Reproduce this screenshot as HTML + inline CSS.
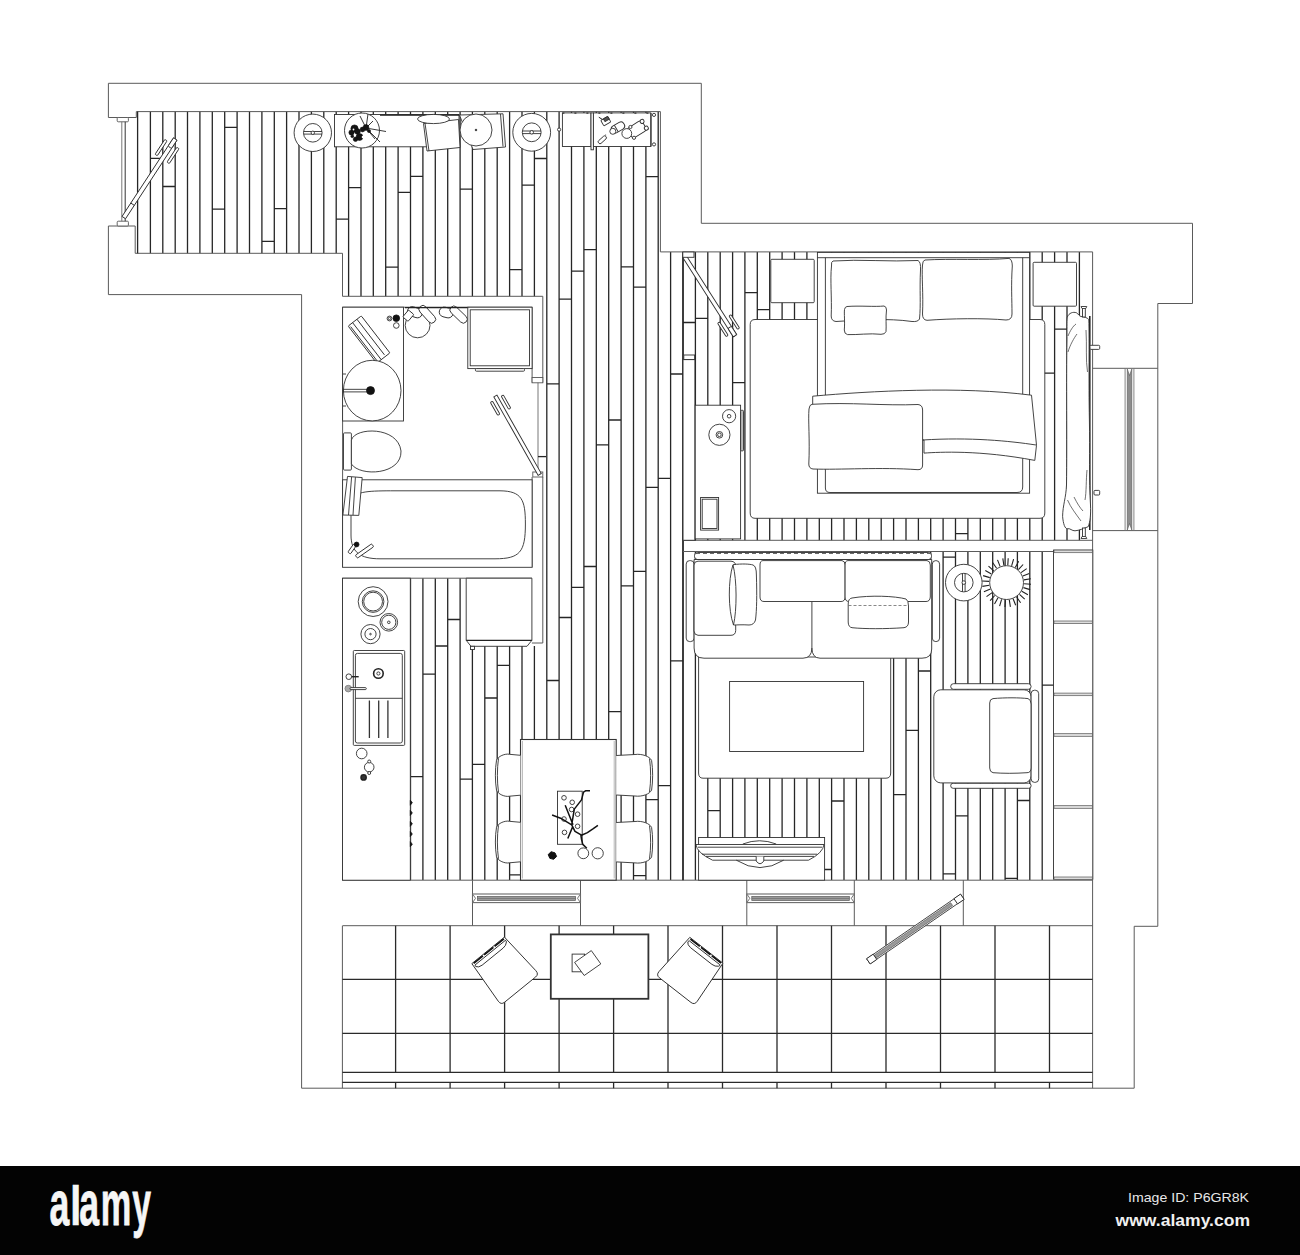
<!DOCTYPE html>
<html><head><meta charset="utf-8"><style>
html,body{margin:0;padding:0;background:#fff;}
body{width:1300px;height:1255px;overflow:hidden;position:relative;font-family:"Liberation Sans",sans-serif;}
svg{position:absolute;left:0;top:0;}
.bar{position:absolute;left:0;top:1166px;width:1300px;height:89px;background:#030303;}
</style></head><body>
<svg width="1300" height="1166" viewBox="0 0 1300 1166" shape-rendering="geometricPrecision">
<g>
<path d="M150.4 111.6V253.3 M162.8 111.6V253.3 M175.2 111.6V253.3 M187.5 111.6V253.3 M199.9 111.6V253.3 M212.3 111.6V253.3 M224.7 111.6V253.3 M237.1 111.6V253.3 M249.5 111.6V253.3 M261.9 111.6V253.3 M274.3 111.6V253.3 M286.6 111.6V253.3 M299.0 111.6V253.3 M311.4 111.6V253.3 M323.8 111.6V253.3 M336.2 111.6V253.3 M348.6 111.6V296.3 M361.0 111.6V296.3 M373.3 111.6V296.3 M385.7 111.6V296.3 M398.1 111.6V296.3 M410.5 111.6V296.3 M422.9 111.6V296.3 M435.3 111.6V296.3 M447.7 111.6V296.3 M460.1 111.6V296.3 M472.4 111.6V296.3 M484.8 111.6V296.3 M497.2 111.6V296.3 M509.6 111.6V296.3 M522.0 111.6V296.3 M534.4 111.6V296.3 M546.8 111.6V880.0 M559.1 111.6V880.0 M571.5 111.6V880.0 M583.9 111.6V880.0 M596.3 111.6V880.0 M608.7 111.6V880.0 M621.1 111.6V880.0 M633.5 111.6V880.0 M645.9 111.6V880.0 M658.2 111.6V880.0 M670.6 251.9V880.0 M683.0 251.9V880.0 M410.5 578.2V880.0 M422.9 578.2V880.0 M435.3 578.2V880.0 M447.7 578.2V880.0 M460.1 578.2V880.0 M472.4 646.0V880.0 M484.8 646.0V880.0 M497.2 646.0V880.0 M509.6 646.0V880.0 M522.0 646.0V880.0 M534.4 646.0V880.0 M695.4 251.9V540.3 M707.8 251.9V540.3 M720.2 251.9V540.3 M732.6 251.9V540.3 M744.9 251.9V540.3 M757.3 251.9V540.3 M769.7 251.9V540.3 M782.1 251.9V540.3 M794.5 251.9V540.3 M806.9 251.9V540.3 M819.3 251.9V540.3 M831.6 251.9V540.3 M844.0 251.9V540.3 M856.4 251.9V540.3 M868.8 251.9V540.3 M881.2 251.9V540.3 M893.6 251.9V540.3 M906.0 251.9V540.3 M918.4 251.9V540.3 M930.7 251.9V540.3 M943.1 251.9V540.3 M955.5 251.9V540.3 M967.9 251.9V540.3 M980.3 251.9V540.3 M992.7 251.9V540.3 M1005.1 251.9V540.3 M1017.4 251.9V540.3 M1029.8 251.9V540.3 M1042.2 251.9V540.3 M1054.6 251.9V540.3 M1067.0 251.9V540.3 M1079.4 251.9V540.3 M695.4 551.5V880.0 M707.8 551.5V880.0 M720.2 551.5V880.0 M732.6 551.5V880.0 M744.9 551.5V880.0 M757.3 551.5V880.0 M769.7 551.5V880.0 M782.1 551.5V880.0 M794.5 551.5V880.0 M806.9 551.5V880.0 M819.3 551.5V880.0 M831.6 551.5V880.0 M844.0 551.5V880.0 M856.4 551.5V880.0 M868.8 551.5V880.0 M881.2 551.5V880.0 M893.6 551.5V880.0 M906.0 551.5V880.0 M918.4 551.5V880.0 M930.7 551.5V880.0 M943.1 551.5V880.0 M955.5 551.5V880.0 M967.9 551.5V880.0 M980.3 551.5V880.0 M992.7 551.5V880.0 M1005.1 551.5V880.0 M1017.4 551.5V880.0 M1029.8 551.5V880.0 M1042.2 551.5V880.0 M150.4 158.3H162.8 M162.8 186.5H175.2 M212.3 209.2H224.7 M224.7 127.3H237.1 M261.9 241.3H274.3 M274.3 208.7H286.6 M336.2 219.1H348.6 M348.6 187.7H361.0 M385.7 267.2H398.1 M398.1 192.4H410.5 M410.5 176.4H422.9 M410.5 776.6H422.9 M460.1 189.2H472.4 M460.1 779.1H472.4 M509.6 269.6H522.0 M509.6 874.8H522.0 M522.0 185.1H534.4 M534.4 158.5H546.8 M422.9 674.2H435.3 M435.3 646.0H447.7 M447.7 619.5H460.1 M472.4 764.4H484.8 M484.8 698.0H497.2 M497.2 665.3H509.6 M546.8 383.8H559.1 M546.8 680.5H559.1 M559.1 299.1H571.5 M559.1 617.5H571.5 M571.5 271.2H583.9 M571.5 587.4H583.9 M583.9 249.7H596.3 M583.9 566.5H596.3 M596.3 444.9H608.7 M608.7 420.0H621.1 M608.7 711.6H621.1 M621.1 266.9H633.5 M621.1 585.8H633.5 M633.5 287.2H645.9 M633.5 571.3H645.9 M633.5 875.6H645.9 M645.9 176.7H658.2 M645.9 487.4H658.2 M645.9 799.6H658.2 M658.2 478.3H670.6 M658.2 785.6H670.6 M670.6 374.0H683.0 M670.6 660.9H683.0 M683.0 322.5H695.4 M695.4 318.4H707.8 M732.6 382.7H744.9 M744.9 292.7H757.3 M757.3 309.6H769.7 M955.5 533.7H967.9 M1042.2 373.1H1054.6 M1054.6 329.2H1067.0 M707.8 810.6H720.2 M819.3 869.5H831.6 M831.6 801.0H844.0 M893.6 794.7H906.0 M906.0 730.3H918.4 M918.4 671.0H930.7 M943.1 557.2H955.5 M943.1 873.8H955.5 M955.5 815.9H967.9 M1005.1 878.3H1017.4 M1017.4 800.5H1029.8 M1042.2 685.1H1054.6" stroke="#262626" stroke-width="1.3" fill="none"/>
</g>
<polyline points="108.4,83.3 701.3,83.3 701.3,223.3 1192.5,223.3 1192.5,303.5 1157.8,303.5 1157.8,926.3 1134.2,926.3 1134.2,1088.2 301.6,1088.2 301.6,294.6 108.4,294.6 108.4,226.0" stroke="#5a5a5a" stroke-width="1" fill="none"/>
<polyline points="108.4,117.5 108.4,83.3" stroke="#5a5a5a" stroke-width="1" fill="none"/>
<polyline points="108.4,117.5 136.3,117.5 136.3,111.6 660.4,111.6 660.4,251.9 1092.6,251.9 1092.6,1088.2" stroke="#5a5a5a" stroke-width="1" fill="none"/>
<polyline points="108.4,226.0 135.2,226.0 135.2,253.3 342.5,253.3 342.5,296.3 542.8,296.3 542.8,382.6" stroke="#5a5a5a" stroke-width="1" fill="none"/>
<line x1="137.6" y1="111.6" x2="137.6" y2="253.3" stroke="#262626" stroke-width="1.3" fill="none"/>
<rect x="117.2" y="117.5" width="11.2" height="4.3" rx="1" stroke="#555" stroke-width="0.9" fill="#fff"/>
<rect x="117.2" y="221.2" width="11.2" height="4.8" rx="1" stroke="#555" stroke-width="0.9" fill="#fff"/>
<line x1="121.8" y1="121.8" x2="121.8" y2="221.2" stroke="#777" stroke-width="1"/>
<line x1="125.2" y1="121.8" x2="125.2" y2="221.2" stroke="#333" stroke-width="1"/>
<polyline points="342.6,567.3 342.6,307.2 532.1,307.2 532.1,382.6" stroke="#5a5a5a" stroke-width="1" fill="none"/>
<rect x="532.1" y="377.5" width="10.7" height="5.3" rx="0" stroke="#555" stroke-width="0.9" fill="#fff"/>
<rect x="532.8" y="472.0" width="10.0" height="5.0" rx="0" stroke="#555" stroke-width="0.9" fill="#fff"/>
<line x1="538.0" y1="382.8" x2="538.0" y2="472.0" stroke="#555" stroke-width="0.8"/>
<line x1="538.0" y1="456.6" x2="546.2" y2="456.6" stroke="#262626" stroke-width="1.3" fill="none"/>
<polyline points="532.1,477.0 532.1,567.3" stroke="#5a5a5a" stroke-width="1" fill="none"/>
<line x1="542.8" y1="477.0" x2="542.8" y2="643.0" stroke="#5a5a5a" stroke-width="1" fill="none"/>
<line x1="531.9" y1="643.0" x2="542.8" y2="643.0" stroke="#5a5a5a" stroke-width="1" fill="none"/>
<polyline points="342.5,578.2 531.9,578.2" stroke="#5a5a5a" stroke-width="1" fill="none"/>
<line x1="342.5" y1="578.2" x2="342.5" y2="880.2" stroke="#5a5a5a" stroke-width="1" fill="none"/>
<line x1="342.5" y1="880.2" x2="1092.6" y2="880.2" stroke="#5a5a5a" stroke-width="1" fill="none"/>
<line x1="342.6" y1="925.7" x2="1092.6" y2="925.7" stroke="#5a5a5a" stroke-width="1" fill="none"/>
<line x1="342.4" y1="925.7" x2="342.4" y2="1088.2" stroke="#5a5a5a" stroke-width="1" fill="none"/>
<line x1="683.0" y1="251.9" x2="683.0" y2="880.2" stroke="#222" stroke-width="1.3"/>
<line x1="683.0" y1="540.3" x2="1092.6" y2="540.3" stroke="#5a5a5a" stroke-width="1" fill="none"/>
<line x1="683.0" y1="551.5" x2="1092.6" y2="551.5" stroke="#5a5a5a" stroke-width="1" fill="none"/>
<line x1="1092.6" y1="368.3" x2="1157.8" y2="368.3" stroke="#5a5a5a" stroke-width="1" fill="none"/>
<line x1="1092.6" y1="530.6" x2="1157.8" y2="530.6" stroke="#5a5a5a" stroke-width="1" fill="none"/>
<line x1="1125.1" y1="368.3" x2="1125.1" y2="530.6" stroke="#777" stroke-width="0.9"/>
<line x1="1133.9" y1="368.3" x2="1133.9" y2="530.6" stroke="#777" stroke-width="0.9"/>
<path d="M1127.3 369 L1129.5 375.5 L1131.8 369 V530 L1129.5 523.5 L1127.3 530 Z" stroke="#555" stroke-width="0.6" fill="#8d8d8d"/>
<line x1="472.5" y1="880.2" x2="472.5" y2="925.7" stroke="#5a5a5a" stroke-width="1" fill="none"/>
<line x1="580.5" y1="880.2" x2="580.5" y2="925.7" stroke="#5a5a5a" stroke-width="1" fill="none"/>
<line x1="746.8" y1="880.2" x2="746.8" y2="925.7" stroke="#5a5a5a" stroke-width="1" fill="none"/>
<line x1="854.3" y1="880.2" x2="854.3" y2="925.7" stroke="#5a5a5a" stroke-width="1" fill="none"/>
<line x1="963.3" y1="880.2" x2="963.3" y2="925.7" stroke="#5a5a5a" stroke-width="1" fill="none"/>
<path d="M395.6 925.7V1072.4M395.6 1082.3V1088.2 M450.1 925.7V1072.4M450.1 1082.3V1088.2 M504.6 925.7V1072.4M504.6 1082.3V1088.2 M559.1 925.7V1072.4M559.1 1082.3V1088.2 M613.6 925.7V1072.4M613.6 1082.3V1088.2 M668.0 925.7V1072.4M668.0 1082.3V1088.2 M722.5 925.7V1072.4M722.5 1082.3V1088.2 M777.0 925.7V1072.4M777.0 1082.3V1088.2 M831.5 925.7V1072.4M831.5 1082.3V1088.2 M886.0 925.7V1072.4M886.0 1082.3V1088.2 M940.5 925.7V1072.4M940.5 1082.3V1088.2 M995.0 925.7V1072.4M995.0 1082.3V1088.2 M1049.5 925.7V1072.4M1049.5 1082.3V1088.2 M342.4 979.4H1092.6 M342.4 1033.3H1092.6 M342.4 1072.4H1092.6 M342.4 1082.3H1092.6" stroke="#2a2a2a" stroke-width="1.3" fill="none"/>
<g transform="translate(123.8,217.6) rotate(-56.80)">
<rect x="0.0" y="-2.1" width="94.0" height="4.2" rx="0" stroke="#303030" stroke-width="0.9" fill="#fff"/>
<line x1="16.0" y1="-2.1" x2="16.0" y2="2.1" stroke="#303030" stroke-width="0.9" fill="none"/>
<rect x="70.0" y="-8.5" width="18.0" height="2.7" rx="1" stroke="#303030" stroke-width="0.9" fill="#fff"/>
<rect x="70.0" y="5.8" width="18.0" height="2.7" rx="1" stroke="#303030" stroke-width="0.9" fill="#fff"/>
<rect x="84.0" y="-2.1" width="10.0" height="4.2" rx="1" stroke="#303030" stroke-width="0.9" fill="#fff"/>
</g>
<circle cx="312.8" cy="132.8" r="18.7" stroke="#303030" stroke-width="0.9" fill="#fff"/>
<circle cx="312.8" cy="132.8" r="9.3" stroke="#303030" stroke-width="0.9" fill="#fff"/>
<line x1="303.6" y1="131.5" x2="322.0" y2="131.5" stroke="#303030" stroke-width="0.9" fill="none"/>
<line x1="303.6" y1="134.1" x2="322.0" y2="134.1" stroke="#303030" stroke-width="0.9" fill="none"/>
<circle cx="312.8" cy="132.8" r="1.7" stroke="#303030" stroke-width="0.9" fill="#fff"/>
<rect x="334.5" y="114.5" width="124.5" height="32.3" rx="0" stroke="#303030" stroke-width="0.9" fill="#fff"/>
<line x1="380.0" y1="115.2" x2="459.0" y2="115.2" stroke="#1a1a1a" stroke-width="1.2" fill="none"/>
<circle cx="362.0" cy="130.5" r="17.5" stroke="#303030" stroke-width="0.9" fill="#fff"/>
<path d="M366 128 L360 116 M366 128 L368 114 M366 128 L386 131.5 M366 128 L380 142 M366 128 L373 121 M366 128 L375 139" stroke="#222" stroke-width="0.9" fill="none"/>
<circle cx="354.5" cy="128.5" r="3.6" stroke="#111" stroke-width="0.6" fill="#141414"/>
<circle cx="351.5" cy="132.5" r="2.6" stroke="#111" stroke-width="0.6" fill="#141414"/>
<circle cx="357.5" cy="131.5" r="2.8" stroke="#111" stroke-width="0.6" fill="#141414"/>
<circle cx="359.5" cy="137.0" r="3.4" stroke="#111" stroke-width="0.6" fill="#141414"/>
<circle cx="355.5" cy="139.3" r="2.2" stroke="#111" stroke-width="0.6" fill="#141414"/>
<circle cx="366.0" cy="127.5" r="2.9" stroke="#111" stroke-width="0.6" fill="#141414"/>
<circle cx="362.5" cy="129.5" r="2.4" stroke="#111" stroke-width="0.6" fill="#141414"/>
<circle cx="352.3" cy="136.3" r="1.4" stroke="#111" stroke-width="0.6" fill="#141414"/>
<circle cx="369.0" cy="131.0" r="1.6" stroke="#111" stroke-width="0.6" fill="#141414"/>
<circle cx="363.0" cy="137.0" r="1.3" stroke="none" fill="#fff"/>
<circle cx="353.5" cy="129.5" r="0.9" stroke="none" fill="#fff"/>
<polygon points="459.5,115.0 503.0,113.8 505.5,147.0 473.0,149.5" stroke="#303030" stroke-width="0.9" fill="#fff"/>
<line x1="500.5" y1="114.0" x2="503.0" y2="146.5" stroke="#303030" stroke-width="0.9" fill="none"/>
<polygon points="423.5,123.5 458.5,119.5 460.0,147.5 427.0,151.0" stroke="#303030" stroke-width="0.9" fill="#fff"/>
<line x1="425.0" y1="123.3" x2="429.0" y2="151.0" stroke="#303030" stroke-width="0.9" fill="none"/>
<ellipse cx="433.5" cy="119" rx="16" ry="4.6" stroke="#303030" stroke-width="0.9" fill="#fff"/>
<circle cx="476.0" cy="130.0" r="16.0" stroke="#303030" stroke-width="0.9" fill="#fff"/>
<circle cx="476.0" cy="130.0" r="0.8" stroke="#333" stroke-width="1" fill="#333"/>
<circle cx="531.7" cy="132.3" r="18.9" stroke="#303030" stroke-width="0.9" fill="#fff"/>
<circle cx="531.7" cy="132.3" r="9.4" stroke="#303030" stroke-width="0.9" fill="#fff"/>
<line x1="522.3" y1="131.0" x2="541.1" y2="131.0" stroke="#303030" stroke-width="0.9" fill="none"/>
<line x1="522.3" y1="133.6" x2="541.1" y2="133.6" stroke="#303030" stroke-width="0.9" fill="none"/>
<circle cx="531.7" cy="132.3" r="1.8" stroke="#303030" stroke-width="0.9" fill="#fff"/>
<circle cx="559.1" cy="129.6" r="1.6" stroke="#303030" stroke-width="0.9" fill="#fff"/>
<rect x="562.4" y="112.9" width="28.6" height="33.6" rx="0" stroke="#303030" stroke-width="0.9" fill="#fff"/>
<rect x="591.0" y="112.9" width="2.4" height="36.9" rx="0" stroke="#303030" stroke-width="0.9" fill="#fff"/>
<rect x="593.4" y="112.9" width="57.3" height="33.6" rx="0" stroke="#303030" stroke-width="0.9" fill="#fff"/>
<line x1="651.2" y1="113.0" x2="651.2" y2="146.5" stroke="#303030" stroke-width="0.9" fill="none"/>
<circle cx="654.0" cy="114.9" r="1.6" stroke="#303030" stroke-width="0.9" fill="#fff"/>
<circle cx="654.0" cy="144.4" r="1.6" stroke="#303030" stroke-width="0.9" fill="#fff"/>
<line x1="562.4" y1="113.2" x2="650.7" y2="113.2" stroke="#333" stroke-width="1.2" stroke-dasharray="2 10"/>
<line x1="598.8" y1="117.2" x2="604.0" y2="120.5" stroke="#222" stroke-width="1"/>
<g transform="translate(605.8,121.2) rotate(-30.00)">
<rect x="-4.0" y="-3.2" width="8.0" height="6.4" rx="1" stroke="#303030" stroke-width="0.9" fill="#fff"/>
<rect x="-1.0" y="-3.2" width="5.0" height="3.2" rx="0" stroke="#222" stroke-width="0.7" fill="#555"/>
</g>
<g transform="translate(602.3,139.8) rotate(-42.00)">
<rect x="-4.8" y="-1.8" width="9.6" height="3.6" rx="1.5" stroke="#303030" stroke-width="0.9" fill="#fff"/>
</g>
<circle cx="605.6" cy="135.0" r="0.6" stroke="none" fill="#333"/>
<g transform="translate(618.0,127.5) rotate(-30.00)">
<rect x="-7.0" y="-3.8" width="14.0" height="7.6" rx="3.5" stroke="#303030" stroke-width="0.9" fill="#fff"/>
<line x1="-2.0" y1="-3.8" x2="-2.0" y2="3.8" stroke="#303030" stroke-width="0.9" fill="none"/>
</g>
<circle cx="612.8" cy="131.3" r="3.0" stroke="#303030" stroke-width="0.9" fill="#fff"/>
<g transform="translate(637.0,129.3) rotate(-32.00)">
<rect x="-8.5" y="-5.8" width="17.0" height="11.6" rx="3" stroke="#303030" stroke-width="0.9" fill="#fff"/>
<circle cx="8.5" cy="-4.0" r="2.0" stroke="#303030" stroke-width="0.9" fill="#fff"/>
<circle cx="8.5" cy="4.0" r="2.0" stroke="#303030" stroke-width="0.9" fill="#fff"/>
</g>
<circle cx="626.8" cy="133.5" r="4.9" stroke="#303030" stroke-width="0.9" fill="#fff"/>
<circle cx="630.4" cy="127.0" r="1.6" stroke="#303030" stroke-width="0.9" fill="#fff"/>
<circle cx="634.0" cy="137.8" r="1.6" stroke="#303030" stroke-width="0.9" fill="#fff"/>
<rect x="342.6" y="307.2" width="60.9" height="113.8" rx="0" stroke="#303030" stroke-width="0.9" fill="#fff"/>
<g transform="translate(361.3,315.9) rotate(52.30)">
<rect x="0.0" y="0.0" width="46.8" height="16.6" rx="1" stroke="#303030" stroke-width="0.9" fill="#fff"/>
<line x1="0.0" y1="5.5" x2="45.0" y2="5.5" stroke="#303030" stroke-width="0.9" fill="none"/>
<line x1="0.0" y1="11.0" x2="46.8" y2="11.0" stroke="#303030" stroke-width="0.9" fill="none"/>
<line x1="2.0" y1="15.0" x2="46.0" y2="15.0" stroke="#303030" stroke-width="0.9" fill="none"/>
</g>
<ellipse cx="372.2" cy="390.6" rx="28.8" ry="30.3" stroke="#303030" stroke-width="0.9" fill="#fff"/>
<rect x="343.5" y="389.3" width="26.5" height="2.6" rx="0" stroke="#303030" stroke-width="0.9" fill="#fff"/>
<circle cx="370.5" cy="390.6" r="4.0" stroke="#111" stroke-width="0.8" fill="#111"/>
<line x1="343.0" y1="374.0" x2="346.0" y2="374.0" stroke="#303030" stroke-width="0.9" fill="none"/>
<line x1="343.0" y1="406.0" x2="346.0" y2="406.0" stroke="#303030" stroke-width="0.9" fill="none"/>
<circle cx="396.3" cy="318.2" r="3.3" stroke="#111" stroke-width="0.8" fill="#111"/>
<circle cx="396.3" cy="325.5" r="2.8" stroke="#303030" stroke-width="0.9" fill="#fff"/>
<circle cx="389.5" cy="318.5" r="2.4" stroke="#303030" stroke-width="0.9" fill="#fff"/>
<circle cx="389.5" cy="318.5" r="1.2" stroke="#303030" stroke-width="0.9" fill="none"/>
<circle cx="417.6" cy="325.4" r="12.4" stroke="#303030" stroke-width="0.9" fill="#fff"/>
<g transform="translate(414.8,312.3) rotate(18.00)">
<rect x="-7.5" y="-4.8" width="15.0" height="9.5" rx="4.75" stroke="#303030" stroke-width="0.9" fill="#fff"/>
</g>
<g transform="translate(427.3,314.3) rotate(48.00)">
<rect x="-10.5" y="-3.9" width="21.0" height="7.8" rx="3.9" stroke="#303030" stroke-width="0.9" fill="#fff"/>
</g>
<g transform="translate(446.2,312.5) rotate(14.00)">
<rect x="-7.0" y="-4.9" width="14.0" height="9.8" rx="4.9" stroke="#303030" stroke-width="0.9" fill="#fff"/>
</g>
<g transform="translate(458.6,314.6) rotate(44.00)">
<rect x="-10.5" y="-3.9" width="21.0" height="7.8" rx="3.9" stroke="#303030" stroke-width="0.9" fill="#fff"/>
</g>
<g transform="translate(408.3,315.7) rotate(-50.00)">
<rect x="-4.5" y="-3.5" width="9.0" height="7.0" rx="1" stroke="#303030" stroke-width="0.9" fill="#fff"/>
</g>
<line x1="405.0" y1="307.6" x2="470.0" y2="307.6" stroke="#222" stroke-width="1.4"/>
<rect x="467.8" y="307.2" width="64.3" height="61.4" rx="0" stroke="#303030" stroke-width="0.9" fill="#fff"/>
<rect x="470.2" y="309.8" width="59.3" height="56.0" rx="0" stroke="#303030" stroke-width="0.9" fill="#fff"/>
<rect x="475.4" y="368.6" width="49.1" height="2.6" rx="1" stroke="#303030" stroke-width="0.9" fill="#fff"/>
<rect x="343.5" y="432.9" width="7.9" height="37.2" rx="1" stroke="#303030" stroke-width="0.9" fill="#fff"/>
<path d="M351.4 440 C355 427 398 426 401 451 C402 475 360 477 351.4 464 Z" stroke="#303030" stroke-width="0.9" fill="#fff"/>
<rect x="342.6" y="479.8" width="189.5" height="87.5" rx="0" stroke="#303030" stroke-width="0.9" fill="#fff"/>
<path d="M351 500 C355 491 370 490.8 395 490.8 L500 490.8 C522 491 525.4 500 525.4 524 C525.4 552 520 558.8 495 558.8 L380 558.8 C360 558.8 351 552 351 535 Z" stroke="#303030" stroke-width="0.9" fill="#fff"/>
<polygon points="347.5,476.4 362.2,477.6 358.8,515.4 342.9,515.0" stroke="#303030" stroke-width="0.9" fill="#fff"/>
<line x1="351.6" y1="477.0" x2="348.5" y2="515.0" stroke="#303030" stroke-width="0.9" fill="none"/>
<line x1="355.4" y1="477.2" x2="353.0" y2="515.2" stroke="#303030" stroke-width="0.9" fill="none"/>
<g transform="translate(364.5,551.0) rotate(-35.00)">
<rect x="-10.0" y="-1.8" width="20.0" height="3.6" rx="1" stroke="#303030" stroke-width="0.9" fill="#fff"/>
</g>
<g transform="translate(352.0,549.0) rotate(-55.00)">
<rect x="-5.0" y="-1.6" width="10.0" height="3.2" rx="1" stroke="#303030" stroke-width="0.9" fill="#fff"/>
</g>
<circle cx="356.6" cy="544.5" r="2.4" stroke="#111" stroke-width="0.8" fill="#111"/>
<g transform="translate(539.7,474.4) rotate(-119.50)">
<rect x="0.0" y="-1.8" width="90.0" height="3.6" rx="0" stroke="#303030" stroke-width="0.9" fill="#fff"/>
<rect x="72.0" y="-7.5" width="15.0" height="2.5" rx="1" stroke="#303030" stroke-width="0.9" fill="#fff"/>
<rect x="72.0" y="5.0" width="15.0" height="2.5" rx="1" stroke="#303030" stroke-width="0.9" fill="#fff"/>
</g>
<rect x="342.5" y="578.2" width="67.8" height="302.0" rx="0" stroke="#303030" stroke-width="0.9" fill="#fff"/>
<circle cx="373.1" cy="601.6" r="14.9" stroke="#303030" stroke-width="0.9" fill="#fff"/>
<circle cx="373.1" cy="601.6" r="10.8" stroke="#303030" stroke-width="0.9" fill="#fff"/>
<circle cx="373.1" cy="601.6" r="9.4" stroke="#303030" stroke-width="0.9" fill="#fff"/>
<circle cx="388.8" cy="622.3" r="8.8" stroke="#303030" stroke-width="0.9" fill="#fff"/>
<circle cx="388.8" cy="622.3" r="7.1" stroke="#303030" stroke-width="0.9" fill="#fff"/>
<circle cx="388.8" cy="622.3" r="1.3" stroke="#303030" stroke-width="0.9" fill="none"/>
<circle cx="370.5" cy="634.1" r="9.6" stroke="#303030" stroke-width="0.9" fill="#fff"/>
<circle cx="370.5" cy="634.1" r="5.6" stroke="#303030" stroke-width="0.9" fill="#fff"/>
<circle cx="370.5" cy="634.1" r="0.8" stroke="#303030" stroke-width="0.9" fill="none"/>
<rect x="353.3" y="650.5" width="51.4" height="94.9" rx="1" stroke="#303030" stroke-width="0.9" fill="#fff"/>
<rect x="355.4" y="653.4" width="46.9" height="89.6" rx="2" stroke="#303030" stroke-width="0.9" fill="#fff"/>
<line x1="355.4" y1="698.3" x2="402.3" y2="698.3" stroke="#303030" stroke-width="0.9" fill="none"/>
<circle cx="378.4" cy="673.5" r="4.8" stroke="#222" stroke-width="1.6" fill="#fff"/>
<circle cx="378.4" cy="673.5" r="1.6" stroke="#303030" stroke-width="0.9" fill="none"/>
<line x1="369.4" y1="700.5" x2="369.4" y2="738.0" stroke="#333" stroke-width="1.3"/>
<line x1="378.7" y1="700.5" x2="378.7" y2="738.0" stroke="#333" stroke-width="1.3"/>
<line x1="387.9" y1="700.5" x2="387.9" y2="738.0" stroke="#333" stroke-width="1.3"/>
<circle cx="348.8" cy="676.7" r="2.8" stroke="#303030" stroke-width="0.9" fill="#fff"/>
<line x1="351.6" y1="676.7" x2="358.7" y2="676.7" stroke="#222" stroke-width="1.4"/>
<circle cx="348.3" cy="688.6" r="3.3" stroke="#888" stroke-width="1" fill="#aaa"/>
<rect x="350.0" y="687.6" width="16.3" height="2.0" rx="1" stroke="#303030" stroke-width="0.9" fill="#fff"/>
<circle cx="361.7" cy="753.5" r="5.3" stroke="#303030" stroke-width="0.9" fill="#fff"/>
<circle cx="369.2" cy="767.2" r="4.8" stroke="#303030" stroke-width="0.9" fill="#fff"/>
<circle cx="369.2" cy="761.5" r="1.5" stroke="#303030" stroke-width="0.9" fill="#fff"/>
<circle cx="369.2" cy="773.0" r="1.5" stroke="#303030" stroke-width="0.9" fill="#fff"/>
<circle cx="363.6" cy="777.4" r="2.6" stroke="#222" stroke-width="1.5" fill="#333"/>
<path d="M410.3 800.2 l2 2.5 l-2 2.5z" stroke="#111" stroke-width="0.8" fill="#111"/>
<path d="M410.3 810.4 l2 2.5 l-2 2.5z" stroke="#111" stroke-width="0.8" fill="#111"/>
<path d="M410.3 821.3 l2 2.5 l-2 2.5z" stroke="#111" stroke-width="0.8" fill="#111"/>
<path d="M410.3 831.5 l2 2.5 l-2 2.5z" stroke="#111" stroke-width="0.8" fill="#111"/>
<path d="M410.3 841.7 l2 2.5 l-2 2.5z" stroke="#111" stroke-width="0.8" fill="#111"/>
<path d="M466.2 578.2 H531.9 V640.3 L527 646.3 H471 L466.2 640.3 Z" stroke="#303030" stroke-width="0.9" fill="#fff"/>
<line x1="466.2" y1="640.3" x2="531.9" y2="640.3" stroke="#222" stroke-width="1.2"/>
<rect x="470.5" y="646.3" width="4.0" height="3.2" rx="0" stroke="#303030" stroke-width="0.9" fill="#fff"/>
<rect x="520.5" y="739.5" width="95.7" height="140.7" rx="0" stroke="#333" stroke-width="1.1" fill="#fff"/>
<line x1="522.4" y1="741.0" x2="522.4" y2="878.5" stroke="#999" stroke-width="0.7"/>
<line x1="614.2" y1="741.0" x2="614.2" y2="878.5" stroke="#999" stroke-width="0.7"/>
<path d="M520.5 755.3 L509.5 754.3 C505 753.3 498 756.3 496.5 760.3 C495 769.0 495 781.5 496.5 790.2 C498 794.2 505 797.2 509.5 796.2 L520.5 795.2" stroke="#303030" stroke-width="0.9" fill="#fff"/>
<path d="M498.5 758.3 C497 769.0 497 781.5 498.5 792.2" stroke="#303030" stroke-width="0.9" fill="none"/>
<line x1="509.5" y1="754.3" x2="509.5" y2="796.2" stroke="none"/>
<path d="M520.5 822.3 L509.5 821.3 C505 820.3 498 823.3 496.5 827.3 C495 835.8 495 848.3 496.5 856.8 C498 860.8 505 863.8 509.5 862.8 L520.5 861.8" stroke="#303030" stroke-width="0.9" fill="#fff"/>
<path d="M498.5 825.3 C497 835.8 497 848.3 498.5 858.8" stroke="#303030" stroke-width="0.9" fill="none"/>
<line x1="509.5" y1="821.3" x2="509.5" y2="862.8" stroke="none"/>
<path d="M616.2 755.5 L635 754.5 C642 753.5 650 756.5 651.6 760.5 C653 769.0 653 781.5 651.6 790.0 C650 794.0 642 797.0 635 796.0 L616.2 795.0" stroke="#303030" stroke-width="0.9" fill="#fff"/>
<path d="M649.5 758.5 C651 769.0 651 781.5 649.5 792.0" stroke="#303030" stroke-width="0.9" fill="none"/>
<path d="M616.2 822.5 L635 821.5 C642 820.5 650 823.5 651.6 827.5 C653 836.0 653 848.4 651.6 856.9 C650 860.9 642 863.9 635 862.9 L616.2 861.9" stroke="#303030" stroke-width="0.9" fill="#fff"/>
<path d="M649.5 825.5 C651 836.0 651 848.4 649.5 858.9" stroke="#303030" stroke-width="0.9" fill="none"/>
<rect x="557.5" y="791.2" width="24.7" height="53.1" rx="0" stroke="#303030" stroke-width="0.9" fill="#fff"/>
<circle cx="564.0" cy="797.8" r="2.3" stroke="#303030" stroke-width="0.9" fill="none"/>
<circle cx="572.2" cy="802.3" r="2.3" stroke="#303030" stroke-width="0.9" fill="none"/>
<circle cx="571.6" cy="809.5" r="2.3" stroke="#303030" stroke-width="0.9" fill="none"/>
<circle cx="577.6" cy="814.2" r="2.3" stroke="#303030" stroke-width="0.9" fill="none"/>
<circle cx="564.0" cy="819.0" r="2.3" stroke="#303030" stroke-width="0.9" fill="none"/>
<circle cx="577.6" cy="826.3" r="2.3" stroke="#303030" stroke-width="0.9" fill="none"/>
<circle cx="564.5" cy="832.4" r="2.3" stroke="#303030" stroke-width="0.9" fill="none"/>
<path d="M552.1 815 L560.6 818.2 L567.2 822.2 L571.7 824.8 L575 831.3 L581.5 835.2 L587.4 832.6 L593.3 828.7 L597.9 825.4 M574.3 809.1 L581.5 799.9 L583.5 792.1 L585.5 790.8 L590 790.8 M580.9 835.2 L581.5 839.2 L582.8 844.4 L586.8 848.3 M565.2 805.2 L573 824.8 M567.8 838.5 L572.4 827.4 M571.7 824.8 L574.3 809.1" stroke="#111" stroke-width="1.5" fill="none" stroke-linejoin="round"/>
<circle cx="583.3" cy="853.3" r="5.4" stroke="#303030" stroke-width="0.9" fill="#fff"/>
<circle cx="597.7" cy="853.3" r="5.6" stroke="#303030" stroke-width="0.9" fill="#fff"/>
<path d="M548.2 854.5 l3 -2.8 l3.8 1.2 l1.6 3.6 l-3 2.8 l-3.8 -1z" stroke="#111" stroke-width="1" fill="#111"/>
<rect x="472.5" y="894.0" width="108.0" height="8.6" rx="0" stroke="#6a6a6a" stroke-width="1.1" fill="#fff"/>
<rect x="477.5" y="896.6" width="98.0" height="3.8" rx="0" stroke="#555" stroke-width="0.7" fill="#9a9a9a"/>
<line x1="477.5" y1="898.5" x2="575.5" y2="898.5" stroke="#666" stroke-width="0.6"/>
<path d="M473.0 894.6 L475.5 898.3 L473.0 902 M580.0 894.6 L577.5 898.3 L580.0 902" stroke="#555" stroke-width="0.8" fill="none"/>
<rect x="746.8" y="894.0" width="107.5" height="8.6" rx="0" stroke="#6a6a6a" stroke-width="1.1" fill="#fff"/>
<rect x="751.8" y="896.6" width="97.5" height="3.8" rx="0" stroke="#555" stroke-width="0.7" fill="#9a9a9a"/>
<line x1="751.8" y1="898.5" x2="849.3" y2="898.5" stroke="#666" stroke-width="0.6"/>
<path d="M747.3 894.6 L749.8 898.3 L747.3 902 M853.8 894.6 L851.3 898.3 L853.8 902" stroke="#555" stroke-width="0.8" fill="none"/>
<g transform="translate(872.5,958.5) rotate(-34.50)">
<rect x="-5.0" y="-3.0" width="114.0" height="6.0" rx="0" stroke="#444" stroke-width="0.9" fill="#fff"/>
<rect x="3.0" y="-1.7" width="93.0" height="3.4" rx="0" stroke="#555" stroke-width="0.6" fill="#9a9a9a"/>
<rect x="-5.0" y="-3.2" width="8.0" height="6.4" rx="0" stroke="#303030" stroke-width="0.9" fill="#fff"/>
<rect x="101.0" y="-3.2" width="8.0" height="6.4" rx="0" stroke="#303030" stroke-width="0.9" fill="#fff"/>
</g>
<g transform="translate(684.5,256.5) rotate(57.50)">
<rect x="0.0" y="-2.0" width="94.0" height="4.0" rx="0" stroke="#303030" stroke-width="0.9" fill="#fff"/>
<rect x="74.0" y="-8.0" width="16.0" height="2.5" rx="1" stroke="#303030" stroke-width="0.9" fill="#fff"/>
<rect x="74.0" y="5.5" width="16.0" height="2.5" rx="1" stroke="#303030" stroke-width="0.9" fill="#fff"/>
<rect x="84.0" y="-2.0" width="10.0" height="4.0" rx="1" stroke="#303030" stroke-width="0.9" fill="#fff"/>
</g>
<rect x="682.8" y="252.0" width="11.2" height="5.3" rx="0" stroke="#303030" stroke-width="0.9" fill="#fff"/>
<rect x="683.8" y="355.0" width="10.8" height="4.6" rx="0" stroke="#303030" stroke-width="0.9" fill="#fff"/>
<rect x="683.0" y="359.6" width="12.2" height="180.7" rx="0" stroke="#333" stroke-width="1" fill="#fff"/>
<line x1="695.2" y1="359.6" x2="695.2" y2="540.3" stroke="#262626" stroke-width="1.15" fill="none"/>
<path d="M755 319.5 H1040 Q1044.8 319.5 1044.8 324.5 V513 Q1044.8 518.3 1040 518.3 H755 Q750.2 518.3 750.2 513 V324.5 Q750.2 319.5 755 319.5Z" stroke="#303030" stroke-width="0.9" fill="#fff"/>
<rect x="770.8" y="259.3" width="43.4" height="43.4" rx="1" stroke="#303030" stroke-width="0.9" fill="#fff"/>
<rect x="1033.1" y="262.3" width="43.4" height="43.9" rx="1" stroke="#303030" stroke-width="0.9" fill="#fff"/>
<rect x="817.4" y="252.4" width="212.2" height="240.8" rx="0" stroke="#303030" stroke-width="0.9" fill="#fff"/>
<line x1="817.4" y1="257.7" x2="1029.6" y2="257.7" stroke="#303030" stroke-width="0.9" fill="none"/>
<path d="M825.4 257.7 V488 Q825.4 492.5 830 492.5 H1017 Q1022.7 492.5 1022.7 487 V257.7" stroke="#303030" stroke-width="0.9" fill="none"/>
<path d="M833 261 C860 259 890 262 918 260.5 Q921 262 920.5 270 C919.5 290 921 305 919.5 319 Q918 322 912 321.5 C888 318 860 320 836 321.5 Q831.2 321 831.2 316 C832 298 830 280 831.5 266 Q831 261.5 833 261Z" stroke="#303030" stroke-width="0.9" fill="#fff"/>
<path d="M925 260 C950 258.5 985 260.5 1009 258.4 Q1012.3 259.5 1012.3 266 C1011 285 1012 300 1012 314 Q1012 320 1006 320 C985 318 950 318.5 927 320.3 Q922.5 320 922.5 314 C923.5 295 921.5 275 922.5 265 Q922.5 260.5 925 260Z" stroke="#303030" stroke-width="0.9" fill="#fff"/>
<path d="M847 306.5 C860 305.5 875 307 884 306 Q886.5 306.5 886.5 310 C885.5 318 886.5 326 886 331.5 Q885 334.5 881 334.3 C870 333 857 335 847.5 334.6 Q844.3 334 844.3 330 C845 322 844 313 844.5 309.5 Q845 306.7 847 306.5Z" stroke="#303030" stroke-width="0.9" fill="#fff"/>
<path d="M812.7 396.2 C870 391 960 386 1031.5 395.2 L1036.5 445.2 L1034.8 460.4 C980 450 940 452 924 453.1 L924 440 C890 441 850 443 812.7 445 Z" stroke="#303030" stroke-width="0.9" fill="#fff"/>
<path d="M922.6 440 C970 437 1010 441 1036 445" stroke="#303030" stroke-width="0.9" fill="none"/>
<path d="M812 404.3 C850 402 885 406 918 404.5 Q922.6 405 922.6 410 L922.6 465 Q922.6 469.7 918 469.7 C880 467 840 470 813 469 Q808.8 468.5 808.8 464 C810 440 808 420 809 409 Q809.5 404.5 812 404.3Z" stroke="#303030" stroke-width="0.9" fill="#fff"/>
<line x1="1089.8" y1="316.0" x2="1089.8" y2="530.0" stroke="#1a1a1a" stroke-width="1.5"/>
<path d="M1067.3 317 C1069 313 1073 311.5 1076.5 312.8 C1078.5 314 1079 316 1081 316.5 C1084 316.8 1087 317.5 1088.8 319.5 C1089.5 340 1088.6 380 1089.4 420 C1090 450 1088.8 480 1090.5 505 C1091 515 1090 522 1088.3 526.6 C1084 528.5 1079 530.5 1075 530.8 C1072 531 1070 528 1067.5 528.7 C1065 529 1063.2 524 1062.6 516.3 C1062.8 505 1066 498 1066.5 485 C1067.2 440 1066.2 380 1067 340 C1067.1 330 1066.8 322 1067.3 317Z" stroke="#303030" stroke-width="0.9" fill="#fff"/>
<path d="M1068 336 C1070 331 1073 326 1076 324 M1068 352 C1070 345 1074 338 1077 334 M1067.5 500 C1071 508 1076 514 1081 521 M1074 497 C1077 503 1080 508 1083 511 M1086 330 C1087 345 1085.5 360 1087.5 372 M1087 470 C1086 480 1086.5 492 1085 500" stroke="#333" stroke-width="0.7" fill="none"/>
<rect x="1082.5" y="307.0" width="2.8" height="10.0" rx="0" stroke="#303030" stroke-width="0.9" fill="#fff"/>
<path d="M1081 306.5 h5.8 l-1 2 h-3.8z" stroke="#222" stroke-width="0.8" fill="#fff"/>
<rect x="1082.5" y="528.0" width="2.8" height="9.5" rx="0" stroke="#303030" stroke-width="0.9" fill="#fff"/>
<path d="M1081 538.5 h5.8 l-1 -2 h-3.8z" stroke="#222" stroke-width="0.8" fill="#fff"/>
<rect x="1090.0" y="345.3" width="9.7" height="4.1" rx="1" stroke="#303030" stroke-width="0.9" fill="#fff"/>
<rect x="1094.0" y="490.4" width="5.7" height="4.6" rx="1" stroke="#303030" stroke-width="0.9" fill="#fff"/>
<rect x="695.2" y="405.2" width="45.4" height="133.7" rx="0" stroke="#303030" stroke-width="0.9" fill="#fff"/>
<rect x="740.6" y="410.3" width="2.9" height="40.6" rx="1" stroke="#333" stroke-width="0.9" fill="#bbb"/>
<circle cx="729.1" cy="416.2" r="6.6" stroke="#303030" stroke-width="0.9" fill="#fff"/>
<circle cx="729.1" cy="416.2" r="1.8" stroke="#303030" stroke-width="0.9" fill="none"/>
<circle cx="719.4" cy="434.8" r="10.6" stroke="#303030" stroke-width="0.9" fill="#fff"/>
<circle cx="719.4" cy="434.8" r="3.3" stroke="#303030" stroke-width="0.9" fill="none"/>
<circle cx="719.4" cy="434.8" r="1.8" stroke="#303030" stroke-width="0.9" fill="none"/>
<rect x="700.6" y="497.5" width="18.0" height="32.6" rx="0" stroke="#303030" stroke-width="0.9" fill="#fff"/>
<rect x="702.2" y="499.2" width="14.8" height="29.3" rx="0" stroke="#303030" stroke-width="0.9" fill="none"/>
<path d="M698.6 657 H890.7 V773 Q890.7 778.2 886 778.2 H703 Q698.6 778.2 698.6 773 Z" stroke="#303030" stroke-width="0.9" fill="#fff"/>
<rect x="729.6" y="681.5" width="134.0" height="70.0" rx="0" stroke="#303030" stroke-width="0.9" fill="#fff"/>
<rect x="694.5" y="552.5" width="237.0" height="7.0" rx="3" stroke="#303030" stroke-width="0.9" fill="#fff"/>
<line x1="696.0" y1="553.5" x2="930.0" y2="553.5" stroke="#444" stroke-width="0.8" stroke-dasharray="4 3"/>
<rect x="686.2" y="560.6" width="7.9" height="81.0" rx="3.5" stroke="#303030" stroke-width="0.9" fill="#fff"/>
<rect x="932.3" y="560.6" width="7.3" height="81.0" rx="3.5" stroke="#303030" stroke-width="0.9" fill="#fff"/>
<path d="M694.1 559.5 H931.7 V649 Q931.7 658.2 922 658.2 H820 Q812 658 811.9 648 Q811.8 658 803 658.2 H704 Q694.1 658.2 694.1 648 Z" stroke="#303030" stroke-width="0.9" fill="#fff"/>
<line x1="811.9" y1="601.5" x2="811.9" y2="648.0" stroke="#303030" stroke-width="0.9" fill="none"/>
<path d="M763 560.6 H842 Q845.1 561 845.1 565 V597 Q845 601.5 841 601.5 H764 Q760 601.5 760 597 V565 Q760 560.6 763 560.6Z" stroke="#303030" stroke-width="0.9" fill="#fff"/>
<path d="M848 560.6 H927 Q930.3 561 930.3 565 V597 Q930 601.5 926 601.5 H849 Q845.1 601.5 845.1 597 V565 Q845.1 560.6 848 560.6Z" stroke="#303030" stroke-width="0.9" fill="#fff"/>
<path d="M698 561.2 H731 Q735.7 561.5 735.7 566 V630.5 Q735.5 635.3 731 635.3 H698 Q694.1 635 694.1 631 V565 Q694.1 561.2 698 561.2Z" stroke="#303030" stroke-width="0.9" fill="#fff"/>
<path d="M733 564.7 C742 563.5 750 564 753 565 Q756.4 566 756.4 575 C757 595 756.8 610 755.5 620 Q754 625 749 625 C742 624.5 737 625 733.5 625 C728 610 728 580 733 564.7Z" stroke="#303030" stroke-width="0.9" fill="#fff"/>
<path d="M733 565 C737 580 737 610 733.5 625" stroke="#303030" stroke-width="0.9" fill="none"/>
<path d="M852 598 C870 595 895 596 906 599 Q908.5 600.5 908.5 606 V622 Q908.5 627 904 627.7 C885 629 865 629 852 627.7 Q848.2 627 848.2 622 V604 Q848.2 598.5 852 598Z" stroke="#303030" stroke-width="0.9" fill="#fff"/>
<line x1="848.5" y1="605.5" x2="908.5" y2="605.5" stroke="#555" stroke-width="0.7" stroke-dasharray="3 2"/>
<circle cx="963.8" cy="582.6" r="18.3" stroke="#303030" stroke-width="0.9" fill="#fff"/>
<circle cx="963.8" cy="582.6" r="9.3" stroke="#303030" stroke-width="0.9" fill="#fff"/>
<line x1="962.5" y1="573.5" x2="962.5" y2="591.7" stroke="#303030" stroke-width="0.9" fill="none"/>
<line x1="965.1" y1="573.5" x2="965.1" y2="591.7" stroke="#303030" stroke-width="0.9" fill="none"/>
<circle cx="963.8" cy="582.6" r="1.8" stroke="#303030" stroke-width="0.9" fill="#fff"/>
<path d="M1024.1 583.8L1031.0 584.2 M1023.4 587.6L1030.1 589.6 M1021.8 591.2L1027.9 594.7 M1019.5 594.4L1024.7 599.1 M1016.6 597.0L1020.6 602.7 M1013.1 598.8L1015.7 605.3 M1009.3 599.9L1010.4 606.8 M1005.4 600.1L1005.0 607.0 M1001.6 599.4L999.6 606.1 M998.0 597.8L994.5 603.9 M994.8 595.5L990.1 600.7 M992.2 592.6L986.5 596.6 M990.4 589.1L983.9 591.7 M989.3 585.3L982.4 586.4 M989.1 581.4L982.2 581.0 M989.8 577.6L983.1 575.6 M991.4 574.0L985.3 570.5 M993.7 570.8L988.5 566.1 M996.6 568.2L992.6 562.5 M1000.1 566.4L997.5 559.9 M1003.9 565.3L1002.8 558.4 M1007.8 565.1L1008.2 558.2 M1011.6 565.8L1013.6 559.1 M1015.2 567.4L1018.7 561.3 M1018.4 569.7L1023.1 564.5 M1021.0 572.6L1026.7 568.6 M1022.8 576.1L1029.3 573.5 M1023.9 579.9L1030.8 578.8" stroke="#222" stroke-width="1.1" fill="none"/>
<circle cx="1006.6" cy="582.6" r="16.9" stroke="#303030" stroke-width="0.9" fill="#fff"/>
<rect x="950.7" y="683.7" width="80.4" height="5.6" rx="2.8" stroke="#303030" stroke-width="0.9" fill="#fff"/>
<rect x="950.7" y="783.2" width="80.4" height="5.1" rx="2.5" stroke="#303030" stroke-width="0.9" fill="#fff"/>
<rect x="933.8" y="689.8" width="97.3" height="93.1" rx="7" stroke="#303030" stroke-width="0.9" fill="#fff"/>
<rect x="1031.1" y="690.2" width="7.6" height="92.2" rx="3.5" stroke="#303030" stroke-width="0.9" fill="#fff"/>
<path d="M993 698.6 C1005 697.5 1020 697.6 1028 698.6 Q1031 699.5 1031 704 V768 Q1031 772.7 1027 772.7 C1015 773.5 1003 773.5 993 772.7 Q989.7 772 989.7 768 V703 Q989.7 699 993 698.6Z" stroke="#303030" stroke-width="0.9" fill="#fff"/>
<rect x="1053.5" y="550.1" width="39.3" height="329.0" rx="0" stroke="#303030" stroke-width="0.9" fill="#fff"/>
<rect x="1054.0" y="550.1" width="38.3" height="2.6" rx="0" stroke="#555" stroke-width="0.7" fill="#ddd"/>
<rect x="1054.0" y="621.0" width="38.3" height="2.6" rx="0" stroke="#555" stroke-width="0.7" fill="#ddd"/>
<rect x="1054.0" y="693.1" width="38.3" height="2.6" rx="0" stroke="#555" stroke-width="0.7" fill="#ddd"/>
<rect x="1054.0" y="733.7" width="38.3" height="2.6" rx="0" stroke="#555" stroke-width="0.7" fill="#ddd"/>
<rect x="1054.0" y="805.7" width="38.3" height="2.6" rx="0" stroke="#555" stroke-width="0.7" fill="#ddd"/>
<rect x="1054.0" y="877.0" width="38.3" height="2.6" rx="0" stroke="#555" stroke-width="0.7" fill="#ddd"/>
<rect x="698.6" y="837.5" width="126.0" height="42.7" rx="0" stroke="#303030" stroke-width="0.9" fill="#fff"/>
<path d="M742.8 844 Q759.5 837.5 776.2 844" stroke="#303030" stroke-width="0.9" fill="none"/>
<path d="M695.9 844.5 H824 Q823 853 808.5 860.2 H712.6 Q697 853 695.9 844.5Z" stroke="#303030" stroke-width="0.9" fill="#fff"/>
<line x1="698.0" y1="847.2" x2="822.0" y2="847.2" stroke="#303030" stroke-width="0.9" fill="none"/>
<line x1="702.0" y1="854.2" x2="817.0" y2="854.2" stroke="#303030" stroke-width="0.9" fill="none"/>
<line x1="706.0" y1="856.4" x2="814.0" y2="856.4" stroke="#303030" stroke-width="0.9" fill="none"/>
<path d="M736.3 860.2 Q760 875 783.7 860.2" stroke="#303030" stroke-width="0.9" fill="none"/>
<path d="M756.2 856.4 V861 Q760 866.5 763.8 861 V856.4" stroke="#303030" stroke-width="0.9" fill="#fff"/>
<rect x="550.8" y="934.4" width="97.6" height="64.4" rx="0" stroke="#333" stroke-width="1.8" fill="#fff"/>
<rect x="572.1" y="954.1" width="12.5" height="17.7" rx="0" stroke="#303030" stroke-width="0.9" fill="#fff"/>
<polygon points="574.6,962.4 591.3,950.6 600.8,963.9 584.2,975.5" stroke="#303030" stroke-width="0.9" fill="#fff"/>
<g transform="translate(504.1,970.0) rotate(-39.10)">
<path d="M-21 -25.3 L21 -25.3 L24.2 20.5 Q24.5 25.3 20 25.3 L-20 25.3 Q-24.5 25.3 -24.2 20.5 Z" stroke="#303030" stroke-width="0.9" fill="#fff"/>
<path d="M-19.5 -22.2 L19.5 -22.2 Q20.5 -22 19.5 -20.3 Q17 -17.6 13 -17.6 L-14 -17.6 Q-18.5 -17.8 -19.8 -20.5 Z" stroke="#303030" stroke-width="0.9" fill="none"/>
<line x1="-19.5" y1="-24.3" x2="19.5" y2="-24.3" stroke="#111" stroke-width="1.7" stroke-dasharray="12 1.5"/>
</g>
<g transform="translate(690.8,970.2) rotate(38.00)">
<path d="M-21 -25.3 L21 -25.3 L24.2 20.5 Q24.5 25.3 20 25.3 L-20 25.3 Q-24.5 25.3 -24.2 20.5 Z" stroke="#303030" stroke-width="0.9" fill="#fff"/>
<path d="M-19.5 -22.2 L19.5 -22.2 Q20.5 -22 19.5 -20.3 Q17 -17.6 13 -17.6 L-14 -17.6 Q-18.5 -17.8 -19.8 -20.5 Z" stroke="#303030" stroke-width="0.9" fill="none"/>
<line x1="-19.5" y1="-24.3" x2="19.5" y2="-24.3" stroke="#111" stroke-width="1.7" stroke-dasharray="12 1.5"/>
</g>
</svg>
<div class="bar">
<svg width="1300" height="89" viewBox="0 1166 1300 89">
<g fill="#f6f6f6" font-family="Liberation Sans" font-weight="bold">
<text transform="translate(49.6,1225) scale(0.56,1)" font-size="63.6" stroke="#f6f6f6" stroke-width="0.8">a</text>
<text transform="translate(70.3,1225) scale(0.62,0.87)" font-size="63.6" stroke="#f6f6f6" stroke-width="0.8">l</text>
<text transform="translate(79.2,1225) scale(0.56,1)" font-size="63.6" stroke="#f6f6f6" stroke-width="0.8">a</text>
<text transform="translate(100.8,1225) scale(0.54,1)" font-size="63.6" stroke="#f6f6f6" stroke-width="0.8">m</text>
<text transform="translate(132.3,1225) scale(0.53,1)" font-size="63.6" stroke="#f6f6f6" stroke-width="0.8">y</text>
</g>
<text x="1128" y="1202" font-family="Liberation Sans" font-size="13.5" fill="#e8e8e8" textLength="121" lengthAdjust="spacingAndGlyphs">Image ID: P6GR8K</text>
<text x="1115.6" y="1225.7" font-family="Liberation Sans" font-weight="bold" font-size="17" fill="#f0f0f0" textLength="134.4" lengthAdjust="spacingAndGlyphs">www.alamy.com</text>
</svg>
</div>
</body></html>
